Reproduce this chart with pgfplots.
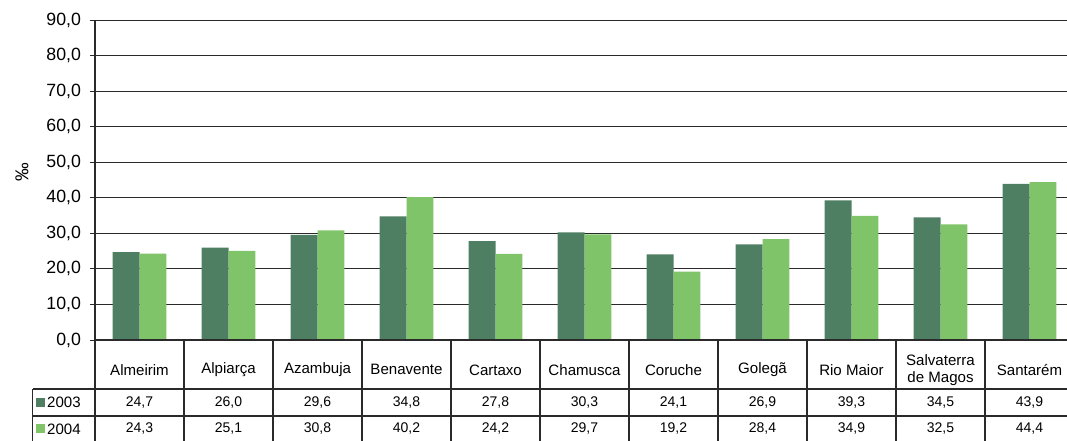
\documentclass[border=0pt]{standalone}
\usepackage{fontspec}
\setmainfont{Liberation Sans}
\usepackage{pgfplots}
\pgfplotsset{compat=1.18}
\definecolor{d03}{HTML}{4F7F62}
\definecolor{d04}{HTML}{80C46A}
\definecolor{rule}{HTML}{2A2A2A}
\tikzset{val/.style={font=\fontsize{10.5}{12}\selectfont}}
\begin{document}
\begin{tikzpicture}
\clip (0,0) rectangle (800.25pt,330.75pt);
\begin{axis}[
  at={(71.25pt,75.75pt)}, anchor=south west,
  scale only axis, width=734.25pt, height=240pt,
  clip=false,
  ybar=0pt, bar width=0.303,
  xmin=-0.5, xmax=10.5, ymin=0, ymax=90,
  axis y line*=left, axis x line*=bottom,
  axis line style={rule, line width=0.8pt},
  ytick={0,10,...,90},
  ymajorgrids, grid style={rule, line width=0.7pt},
  tick align=outside, major tick length=4pt,
  ytick style={rule, line width=0.7pt},
  xtick={0,...,10}, xtick style={draw=none},
  xticklabels={Almeirim,Alpiarça,Azambuja,Benavente,Cartaxo,Chamusca,Coruche,Golegã,Rio Maior,{Salvaterra\\de Magos},Santarém},
  xticklabel style={anchor=center, yshift=-18.4pt, align=center, font=\fontsize{11.3}{12.5}\selectfont},
  yticklabel style={font=\fontsize{13.3}{15}\selectfont, xshift=-3pt},
  /pgf/number format/.cd, use comma, fixed, fixed zerofill, precision=1, assume math mode=true,
]
\addplot[fill=d03, draw=none] coordinates {
  (0,24.7) (1,26.0) (2,29.6) (3,34.8) (4,27.8) (5,30.3) (6,24.1) (7,26.9) (8,39.3) (9,34.5) (10,43.9)};
\addplot[fill=d04, draw=none] coordinates {
  (0,24.3) (1,25.1) (2,30.8) (3,40.2) (4,24.2) (5,29.7) (6,19.2) (7,28.4) (8,34.9) (9,32.5) (10,44.4)};

% table below the plot
\draw[rule, line width=0.8pt] (axis cs:-0.5,0) -- (axis cs:10.5,0);
\draw[rule, line width=0.8pt] (axis cs:-1.197,-13.78) -- (axis cs:10.5,-13.78);
\draw[rule, line width=0.8pt] (axis cs:-1.197,-21.37) -- (axis cs:10.5,-21.37);
\draw[rule, line width=0.8pt] (axis cs:-1.197,-13.78) -- (axis cs:-1.197,-32);
\pgfplotsinvokeforeach{-0.5,0.5,...,10.5}{
  \draw[rule, line width=0.8pt] (axis cs:#1,0) -- (axis cs:#1,-32);
}
\foreach \i/\a/\b in {0/24.7/24.3,1/26.0/25.1,2/29.6/30.8,3/34.8/40.2,4/27.8/24.2,5/30.3/29.7,6/24.1/19.2,7/26.9/28.4,8/39.3/34.9,9/34.5/32.5,10/43.9/44.4}{
  \edef\temp{\noexpand\node[val] at (axis cs:\i,-17.58) {\noexpand\pgfmathprintnumber{\a}};
    \noexpand\node[val] at (axis cs:\i,-25.0) {\noexpand\pgfmathprintnumber{\b}};}
  \temp
}
% legend keys
\fill[d03] ([xshift=2.5pt,yshift=-3.4pt]axis cs:-1.197,-17.58) rectangle ++(6.8pt,6.8pt);
\fill[d04] ([xshift=2.5pt,yshift=-3.4pt]axis cs:-1.197,-25.0) rectangle ++(6.8pt,6.8pt);
\node[font=\fontsize{11.3}{12.5}\selectfont, anchor=west, inner sep=0pt] at ([xshift=10.5pt]axis cs:-1.197,-17.58) {2003};
\node[font=\fontsize{11.3}{12.5}\selectfont, anchor=west, inner sep=0pt] at ([xshift=10.5pt]axis cs:-1.197,-25.0) {2004};
\node[rotate=90, font=\fontsize{14}{16}\selectfont] at ([xshift=-54.75pt]axis cs:-0.5,47.2) {‰};
\end{axis}
\end{tikzpicture}
\end{document}
